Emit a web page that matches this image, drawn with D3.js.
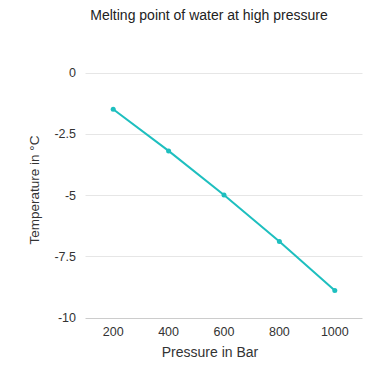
<!DOCTYPE html>
<html><head><meta charset="utf-8">
<script src="https://cdn.jsdelivr.net/npm/d3@7"></script>
<style>body{margin:0;background:#fff;} text{font-family:"Liberation Sans",Arial,sans-serif;}</style>
</head><body>
<svg id="c" width="392" height="377"></svg>
<script>
const pressures = [200, 400, 600, 800, 1000];
const temperatures = [-1.5, -3.2, -5.0, -6.9, -8.9];
const yTicks = [0, -2.5, -5, -7.5, -10];
const xTicks = [200, 400, 600, 800, 1000];
const title = "Melting point of water at high pressure";
const xTitle = "Pressure in Bar";
const yTitle = "Temperature in °C";

const svg = d3.select("#c");
const x = d3.scaleLinear().domain([100, 1100]).range([85.5, 362.5]);
const y = d3.scaleLinear().domain([0, -10]).range([72.5, 317.5]);

// gridlines
svg.append("g").selectAll("line").data(yTicks).join("line")
  .attr("x1", x(100)).attr("x2", x(1100))
  .attr("y1", d => Math.round(y(d)) + 0.5).attr("y2", d => Math.round(y(d)) + 0.5)
  .attr("stroke", d => d === -10 ? "#cccccc" : "#e6e6e6").attr("stroke-width", 1);

// y tick labels
svg.append("g").selectAll("text").data(yTicks).join("text")
  .attr("x", 76).attr("y", d => y(d) + 4.5)
  .attr("text-anchor", "end").attr("font-size", 12.5).attr("fill", "#333")
  .text(d => String(d));

// x tick labels
svg.append("g").selectAll("text").data(xTicks).join("text")
  .attr("x", d => x(d)).attr("y", 336)
  .attr("text-anchor", "middle").attr("font-size", 12.5).attr("fill", "#333")
  .text(d => d);

// line
const pts = pressures.map((p, i) => [p, temperatures[i]]);
svg.append("path").datum(pts)
  .attr("d", d3.line().x(d => x(d[0])).y(d => y(d[1])))
  .attr("fill", "none").attr("stroke", "#1ebfbf").attr("stroke-width", 2);
svg.append("g").selectAll("circle").data(pts).join("circle")
  .attr("cx", d => x(d[0])).attr("cy", d => y(d[1])).attr("r", 2.5)
  .attr("fill", "#1ebfbf");

// titles
svg.append("text").attr("x", 209).attr("y", 20).attr("text-anchor", "middle")
  .attr("font-size", 14).attr("fill", "#222").text(title);
svg.append("text").attr("x", 210).attr("y", 357).attr("text-anchor", "middle")
  .attr("font-size", 14).attr("fill", "#333").text(xTitle);
svg.append("text").attr("transform", "translate(39,190) rotate(-90)")
  .attr("text-anchor", "middle").attr("font-size", 13.5).attr("fill", "#333").text(yTitle);
</script>
</body></html>
